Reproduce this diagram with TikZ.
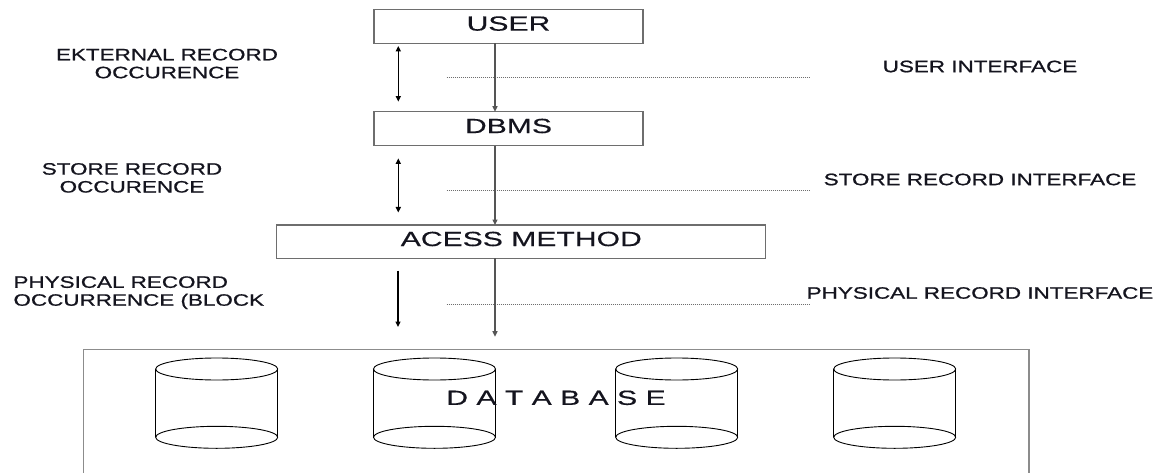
\documentclass[tikz,border=0pt]{standalone}
\usepackage{fontspec}
\setmainfont{Liberation Sans}
\newfontfamily\boxfont[FakeStretch=1.47,FakeBold=0.4]{Liberation Sans}
\newfontfamily\labelfont[FakeStretch=1.36,FakeBold=0.9]{Liberation Sans}
\usetikzlibrary{arrows.meta}

\definecolor{boxgray}{RGB}{110,110,110}
\definecolor{basegray}{RGB}{140,140,140}
\definecolor{flowgray}{RGB}{85,85,85}
\definecolor{dotgray}{RGB}{110,110,110}
\definecolor{inkblack}{RGB}{20,20,30}

\begin{document}
\begin{tikzpicture}[x=1pt,y=-1pt,
  layerbox/.style={rectangle, draw=boxgray, line width=1.3pt, inner sep=0pt, outer sep=0pt,
    text=inkblack, font=\boxfont\fontsize{20.5}{24}\selectfont, text height=14.7pt, text depth=6pt},
  basebox/.style={rectangle, draw=basegray, line width=1.3pt, inner sep=0pt, outer sep=0pt},
  sidelabel/.style={inner sep=0pt, text=inkblack, font=\labelfont\fontsize{16.5}{17.9}\selectfont},
  flow/.style={draw=flowgray, line width=1.1pt, -{Triangle[length=5.5pt,width=5pt]}},
  exchange/.style={draw=black, line width=1.3pt, {Triangle[length=5.5pt,width=5pt]}-{Triangle[length=5.5pt,width=5pt]}},
  descend/.style={draw=black, line width=1.3pt, -{Triangle[length=5.5pt,width=5pt]}},
  boundary/.style={draw=dotgray, line width=0.8pt, dash pattern=on 1.2pt off 0.8pt},
  disk/.style={draw=black, line width=0.9pt}
]
\useasboundingbox (0,0) rectangle (1164,473);
\clip (0,0) rectangle (1164,473);

% layer boxes
\node[layerbox, minimum width=269pt, minimum height=34pt]   (user)   at (508.5,26.3)  {USER};
\node[layerbox, minimum width=269pt, minimum height=34pt]   (dbms)   at (508.5,128.7) {DBMS};
\node[layerbox, minimum width=489pt, minimum height=33.3pt] (access) at (521.3,241.7) {ACESS METHOD};

% storage box, open at the bottom edge
\node[basebox, minimum width=945.7pt, minimum height=150pt] (db) at (556.2,424.3) {};

% disks inside the storage box
\foreach \cx/\name in {216.7/diskA, 434.5/diskB, 676.7/diskC, 894.7/diskD} {
  \coordinate (\name) at (\cx,369);
  \draw[disk] (\cx,369) ellipse [x radius=61pt, y radius=11pt];
  \draw[disk] (\cx,437.3) ellipse [x radius=61pt, y radius=11pt];
  \draw[disk] (\cx-61,369) -- (\cx-61,437.3);
  \draw[disk] (\cx+61,369) -- (\cx+61,437.3);
}
\node[inner sep=0pt, text=inkblack, font=\boxfont\fontsize{20.5}{24}\selectfont, text height=14.7pt, text depth=0pt]
  (dbtext) at (556,397.5) {D A T A B A S E};

% interface boundaries
\coordinate (ui1) at (446.5,77.3);   \coordinate (ui2) at (810,77.3);
\coordinate (si1) at (446.5,190.7);  \coordinate (si2) at (810,190.7);
\coordinate (pi1) at (446.5,304);    \coordinate (pi2) at (810,304);
\draw[boundary] (ui1) -- (ui2);
\draw[boundary] (si1) -- (si2);
\draw[boundary] (pi1) -- (pi2);

% main data path
\coordinate (spine) at (495,0);
\coordinate (dbentry) at (495,336.7);
\draw[flow] (user.south -| spine) -- (dbms.north -| spine);
\draw[flow] (dbms.south -| spine) -- (access.north -| spine);
\draw[flow] (access.south -| spine) -- (dbentry);

% record occurrence arrows
\coordinate (ext1) at (398.3,46);    \coordinate (ext2) at (398.3,101.7);
\coordinate (sto1) at (398.3,158.3); \coordinate (sto2) at (398.3,212.5);
\coordinate (phy1) at (398,270.5);   \coordinate (phy2) at (398,327);
\draw[exchange] (ext1) -- (ext2);
\draw[exchange] (sto1) -- (sto2);
\draw[descend] (phy1) -- (phy2);

% record occurrence labels
\node[sidelabel, align=center, anchor=north] (extlabel) at (167,48.6) {EKTERNAL RECORD\\OCCURENCE};
\node[sidelabel, align=center, anchor=north] (stolabel) at (132,162.9) {STORE RECORD\\OCCURENCE};
\node[sidelabel, align=left, anchor=north west] (phylabel) at (13.3,276.1) {PHYSICAL RECORD\\OCCURRENCE (BLOCK};

% interface labels
\node[sidelabel] (uilabel) at (980,66.5)  {USER INTERFACE};
\node[sidelabel] (silabel) at (980,179.5) {STORE RECORD INTERFACE};
\node[sidelabel] (pilabel) at (980,293)   {PHYSICAL RECORD INTERFACE};
\end{tikzpicture}
\end{document}
